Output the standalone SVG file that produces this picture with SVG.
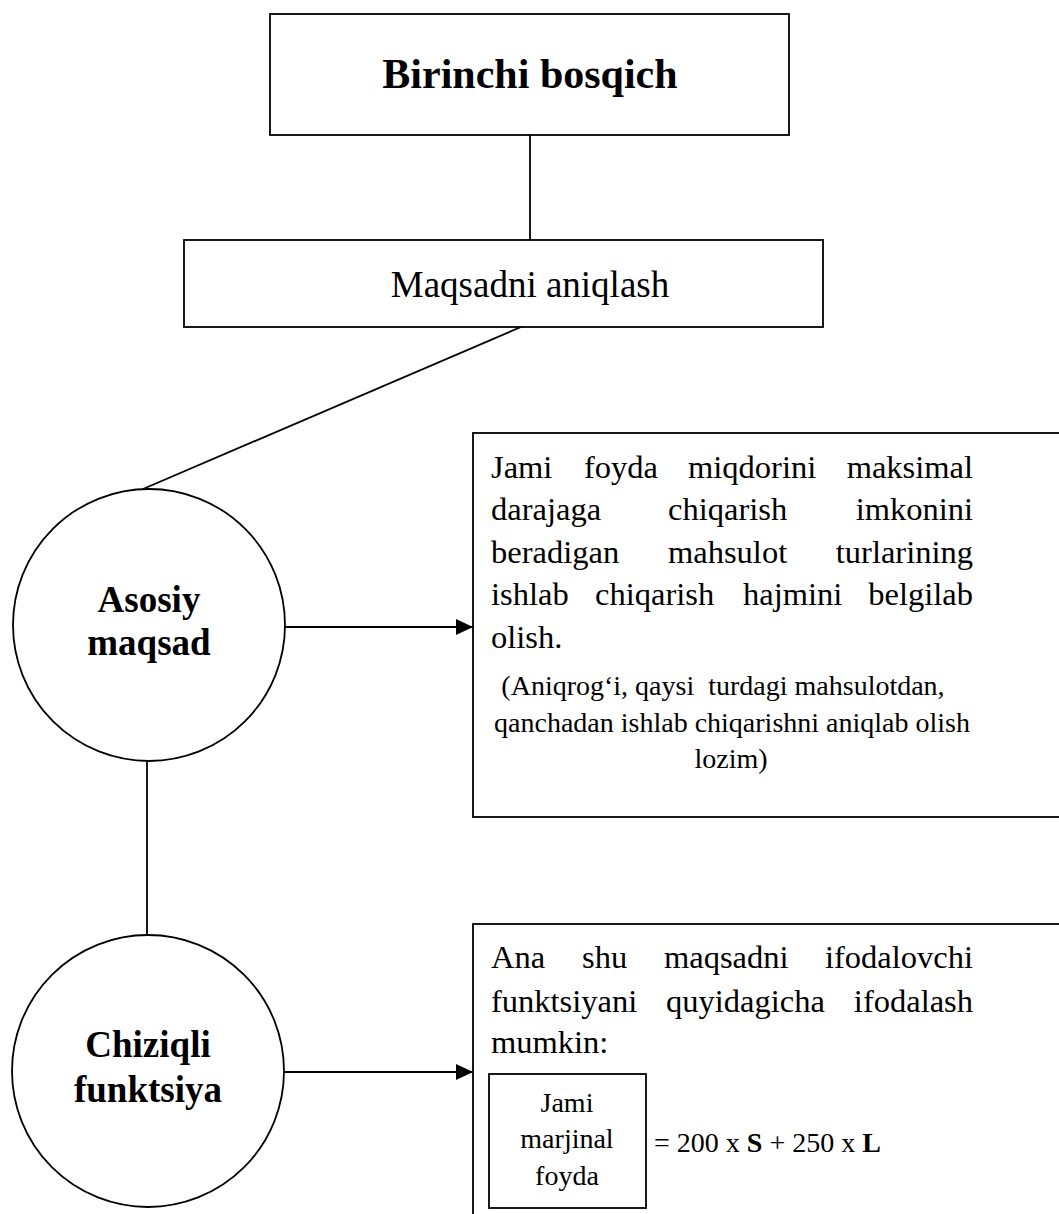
<svg xmlns="http://www.w3.org/2000/svg" width="1059" height="1214" viewBox="0 0 1059 1214">
  <style>
    .box { fill: #fff; stroke: #000; stroke-width: 1.8; }
    .edge { fill: none; stroke: #000; stroke-width: 1.8; }
    text { font-family: "Liberation Serif", "Times New Roman", serif; fill: #000; }
    .title { font-size: 42px; font-weight: bold; }
    .sub { font-size: 37px; }
    .circ { font-size: 37px; font-weight: bold; text-anchor: middle; }
    .body { font-size: 32.5px; }
    .note { font-size: 28px; text-anchor: middle; }
    .small { font-size: 28px; }
    .end { text-anchor: end; }
  </style>
  <defs>
    <marker id="arrowBig" viewBox="0 0 17 16" refX="17" refY="8" markerWidth="17" markerHeight="16" markerUnits="userSpaceOnUse" orient="auto">
      <path d="M0,0 L17,8 L0,16 Z" fill="#000"/>
    </marker>
  </defs>

  <g id="connectors">
    <line class="edge" x1="530" y1="135" x2="530" y2="240"/>
    <line class="edge" x1="521" y1="327" x2="143" y2="489"/>
    <line class="edge" x1="147" y1="761" x2="147" y2="935"/>
    <line class="edge" x1="285" y1="627" x2="473" y2="627" marker-end="url(#arrowBig)"/>
    <line class="edge" x1="284" y1="1072" x2="473" y2="1072" marker-end="url(#arrowBig)"/>
  </g>

  <g id="stage">
    <rect class="box" x="270" y="14" width="519" height="121"/>
    <text class="title" x="530" y="88" text-anchor="middle">Birinchi bosqich</text>
  </g>

  <g id="goal-definition">
    <rect class="box" x="184" y="240" width="639" height="87"/>
    <text class="sub" x="530" y="297" text-anchor="middle">Maqsadni aniqlash</text>
  </g>

  <g id="main-goal">
    <circle class="box" cx="149" cy="625" r="136"/>
    <text class="circ" x="149" y="612">Asosiy</text>
    <text class="circ" x="149" y="655">maqsad</text>
  </g>

  <g id="linear-function">
    <circle class="box" cx="148" cy="1071" r="136"/>
    <text class="circ" x="148" y="1057">Chiziqli</text>
    <text class="circ" x="148" y="1102">funktsiya</text>
  </g>

  <g id="goal-text">
    <rect class="box" x="473" y="433" width="600" height="384"/>
    <text class="body" y="478"><tspan x="491">Jami</tspan><tspan x="584">foyda</tspan><tspan x="688">miqdorini</tspan></text>
    <text class="body end" x="973" y="478">maksimal</text>
    <text class="body" y="520"><tspan x="491">darajaga</tspan><tspan x="668">chiqarish</tspan></text>
    <text class="body end" x="973" y="520">imkonini</text>
    <text class="body" y="563"><tspan x="491">beradigan</tspan><tspan x="668">mahsulot</tspan></text>
    <text class="body end" x="973" y="563">turlarining</text>
    <text class="body" y="605"><tspan x="491">ishlab</tspan><tspan x="595">chiqarish</tspan><tspan x="743">hajmini</tspan></text>
    <text class="body end" x="973" y="605">belgilab</text>
    <text class="body" x="491" y="648">olish.</text>
    <text class="note" x="723" y="695" xml:space="preserve">(Aniqrog‘i, qaysi  turdagi mahsulotdan,</text>
    <text class="note" x="732" y="732">qanchadan ishlab chiqarishni aniqlab olish</text>
    <text class="note" x="731" y="768">lozim)</text>
  </g>

  <g id="function-text">
    <rect class="box" x="473" y="924" width="600" height="300"/>
    <text class="body" y="968"><tspan x="491">Ana</tspan><tspan x="582">shu</tspan><tspan x="664">maqsadni</tspan></text>
    <text class="body end" x="973" y="968">ifodalovchi</text>
    <text class="body" y="1012"><tspan x="491">funktsiyani</tspan><tspan x="666">quyidagicha</tspan></text>
    <text class="body end" x="973" y="1012">ifodalash</text>
    <text class="body" x="491" y="1053">mumkin:</text>
  </g>

  <g id="total-margin">
    <rect class="box" x="489" y="1074" width="157" height="134"/>
    <text class="note" x="567" y="1112">Jami</text>
    <text class="note" x="567" y="1148">marjinal</text>
    <text class="note" x="567" y="1185">foyda</text>
  </g>

  <g id="equation">
    <text class="small" x="654" y="1152" xml:space="preserve">= 200 x <tspan font-weight="bold">S</tspan> + 250 x <tspan font-weight="bold">L</tspan></text>
  </g>
</svg>
